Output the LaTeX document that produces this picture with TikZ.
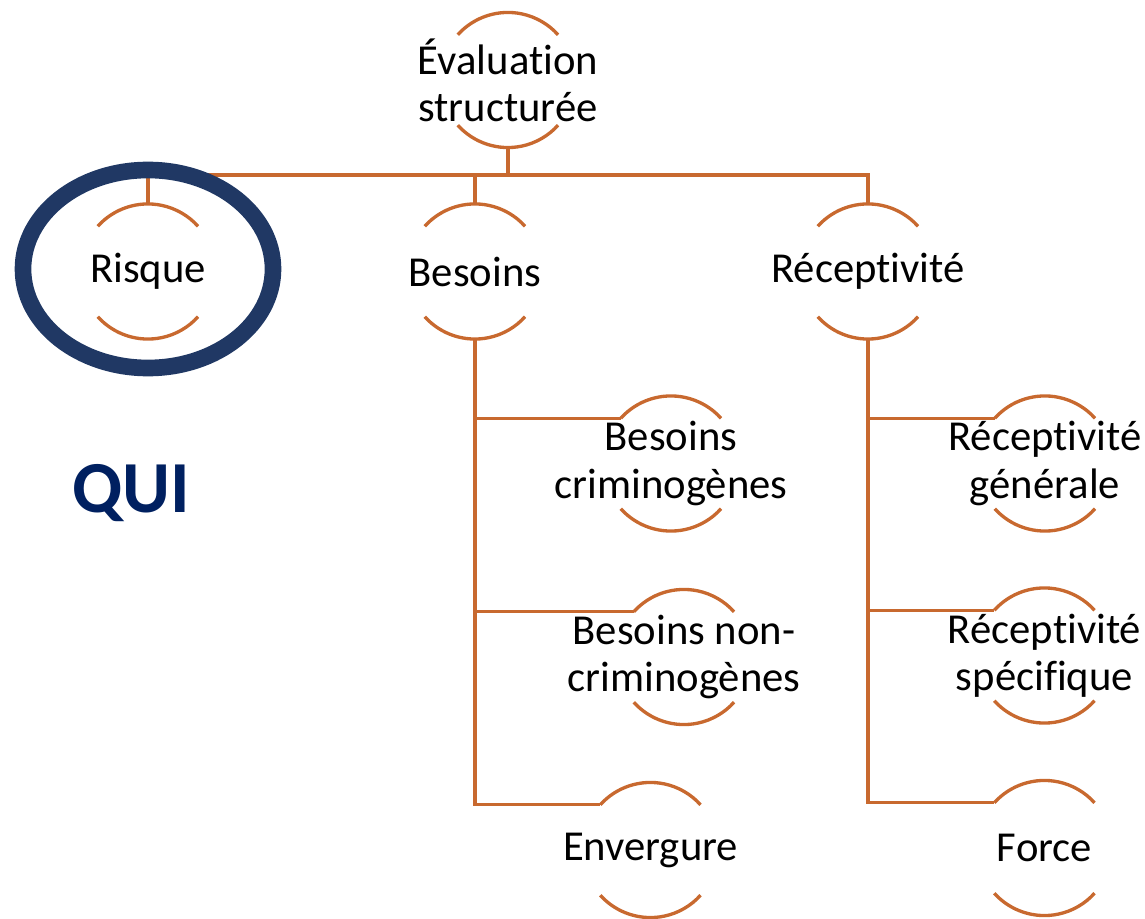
\documentclass[tikz,border=0pt]{standalone}
\usepackage{fontspec}
\setmainfont{Carlito}[Ligatures=NoCommon]
\definecolor{linkorange}{HTML}{C8692F}
\definecolor{ringblue}{HTML}{203864}
\definecolor{quiblue}{HTML}{002060}
\begin{document}
\begin{tikzpicture}[x=0.75pt,y=0.75pt,
  unit/.style={circle, minimum size=101pt, inner sep=0pt},
  lbl/.style={font=\fontsize{32}{35.3}\selectfont, align=center, text=black},
  link/.style={draw=linkorange, line width=2.5pt},
  ring/.style={draw=ringblue, line width=12.5pt}]
\useasboundingbox (0,0) rectangle (1145,-919);

% circular units (only their top and bottom arcs are drawn)
\node[unit] (eval)    at (508,-80) {};
\node[unit] (risque)  at (148,-271.5) {};
\node[unit] (besoins) at (475,-271.5) {};
\node[unit] (recep)   at (868,-271.5) {};
\node[unit] (crim)    at (671,-463.5) {};
\node[unit] (noncrim) at (684,-657) {};
\node[unit] (env)     at (650.5,-850) {};
\node[unit] (gen)     at (1045,-463.5) {};
\node[unit] (spec)    at (1044.5,-655.5) {};
\node[unit] (force)   at (1044.5,-848) {};

\foreach \u in {eval,risque,besoins,recep,crim,noncrim,env,gen,spec,force}{
  \draw[link] (\u.138) arc[start angle=138, end angle=42, radius=50.6pt];
  \draw[link] (\u.222) arc[start angle=222, end angle=318, radius=50.6pt];
}

% labels
\node[lbl] (eval-t)    at (eval)    {Évaluation\\structurée};
\node[lbl] (risque-t)  at (risque)  {Risque};
\node[lbl] (besoins-t) at (besoins) {Besoins};
\node[lbl] (recep-t)   at (recep)   {Réceptivité};
\node[lbl] (crim-t)    at (crim)    {Besoins\\criminogènes};
\node[lbl] (noncrim-t) at (noncrim) {Besoins non-\\criminogènes};
\node[lbl] (env-t)     at (env)     {Envergure};
\node[lbl] (gen-t)     at (gen)     {Réceptivité\\générale};
\node[lbl] (spec-t)    at (spec)    {Réceptivité\\spécifique};
\node[lbl] (force-t)   at (force)   {Force};

% top-level bus
\coordinate (bus) at (0,-175);
\draw[link] (eval.south) -- (eval.south |- bus);
\draw[link] (risque.north) -- (risque.north |- bus) -- (recep.north |- bus) -- (recep.north);
\draw[link] (besoins.north) -- (besoins.north |- bus);

% Besoins branch
\draw[link] (besoins.south) |- (env.138);
\draw[link] (besoins.south |- crim.138) -- (crim.138);
\draw[link] (besoins.south |- noncrim.138) -- (noncrim.138);

% Réceptivité branch
\draw[link] (recep.south) |- (force.138);
\draw[link] (recep.south |- gen.138) -- (gen.138);
\draw[link] (recep.south |- spec.138) -- (spec.138);

% highlight ring and caption
\draw[ring] (148,-269) ellipse[x radius=125, y radius=99];
\node[font=\fontsize{55}{66}\selectfont\bfseries, text=quiblue, anchor=base] (qui) at (131,-512) {QUI};
\end{tikzpicture}
\end{document}
